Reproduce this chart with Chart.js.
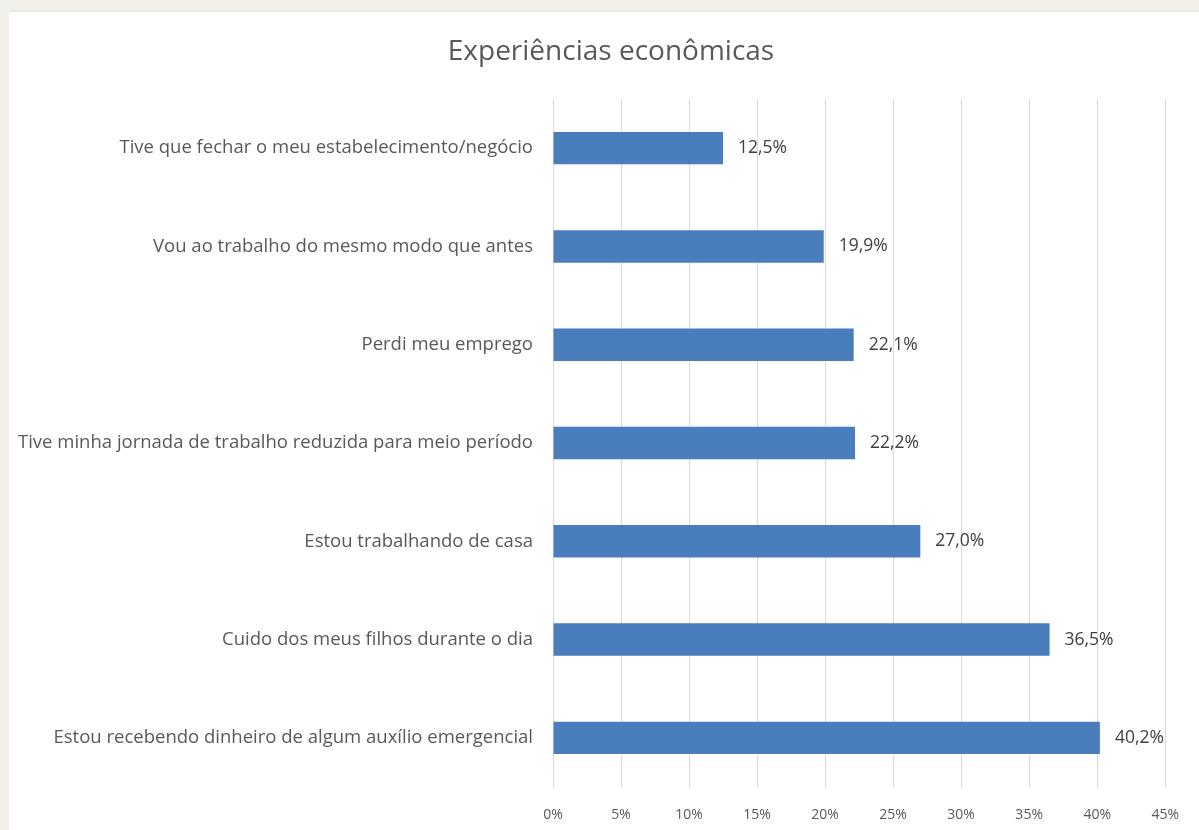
<!DOCTYPE html>
<html>
<head>
<meta charset="utf-8">
<script src="https://cdn.jsdelivr.net/npm/chart.js@4.4.1/dist/chart.umd.min.js"></script>
<style>
    html, body { margin: 0; padding: 0; background: #f3f0eb; }
    #wrap { position: absolute; left: 9px; top: 10px; width: 1190px; height: 820px; background: #fff; border-top: 2px solid #e9e9e9; box-sizing: border-box; }
    canvas { display: block; }
</style>
</head>
<body>
<div id="wrap"><canvas id="econChart"></canvas></div>
<script>
// Experiências econômicas - horizontal bars, Excel-like look

const chartTitle = 'Experiências econômicas';
const categories = [
    'Tive que fechar o meu estabelecimento/negócio',
    'Vou ao trabalho do mesmo modo que antes',
    'Perdi meu emprego',
    'Tive minha jornada de trabalho reduzida para meio período',
    'Estou trabalhando de casa',
    'Cuido dos meus filhos durante o dia',
    'Estou recebendo dinheiro de algum auxílio emergencial'
];
const values = [12.5, 19.9, 22.1, 22.2, 27.0, 36.5, 40.2];
const xTicks = [0, 5, 10, 15, 20, 25, 30, 35, 40, 45];

const FONT = "'Open Sans', 'Liberation Sans', sans-serif";
const textGray = '#595959';

// draws "12,5%" style labels at the end of each bar
const barValueLabels = {
    id: 'barValueLabels',
    afterDatasetsDraw(chart) {
        const ctx = chart.ctx;
        const meta = chart.getDatasetMeta(0);
        ctx.save();
        ctx.font = '17.5px ' + FONT;
        ctx.fillStyle = '#404040';
        ctx.textAlign = 'left';
        ctx.textBaseline = 'middle';
        meta.data.forEach((bar, i) => {
            const txt = values[i].toFixed(1).replace('.', ',') + '%';
            ctx.fillText(txt, bar.x + 15, bar.y);
        });
        ctx.restore();
    }
};

// title sits a bit right of the canvas centre in the original
const offsetTitle = {
    id: 'offsetTitle',
    afterDraw(chart) {
        const ctx = chart.ctx;
        ctx.save();
        ctx.font = '28px ' + FONT;
        ctx.fillStyle = textGray;
        ctx.textAlign = 'center';
        ctx.textBaseline = 'middle';
        ctx.fillText(chartTitle, 602, 40);
        ctx.restore();
    }
};

function init() {
    const ctx = document.getElementById('econChart').getContext('2d');
    new Chart(ctx, {
        type: 'bar',
        data: {
            labels: categories,
            datasets: [{
                data: values,
                backgroundColor: '#4a7dbb',
                borderWidth: 0,
                barPercentage: 0.33,
                categoryPercentage: 1.0
            }]
        },
        options: {
            indexAxis: 'y',
            responsive: false,
            animation: false,
            layout: { padding: { left: 0, right: 20, top: 87, bottom: 0 } },
            scales: {
                x: {
                    min: 0, max: 45,
                    afterBuildTicks: (s) => { s.ticks = xTicks.map(v => ({ value: v })); },
                    grid: { color: '#d9d9d9', drawTicks: false },
                    border: { display: false },
                    ticks: { color: textGray, padding: 20, font: { family: FONT, size: 14 }, callback: v => v + '%' },
                    afterFit: (s) => { s.height = 43; }
                },
                y: {
                    grid: { display: false, drawTicks: false },
                    border: { display: true, color: '#d9d9d9' },
                    ticks: { color: textGray, padding: 20, font: { family: FONT, size: 18.5 } },
                    afterFit: (s) => { s.width = 544; }
                }
            },
            plugins: {
                legend: { display: false },
                tooltip: { enabled: false },
                title: { display: false }
            }
        },
        plugins: [barValueLabels, offsetTitle]
    });
}

const cv = document.getElementById('econChart');
cv.width = 1190; cv.height = 818;
document.addEventListener('DOMContentLoaded', init);
</script>
</body>
</html>
